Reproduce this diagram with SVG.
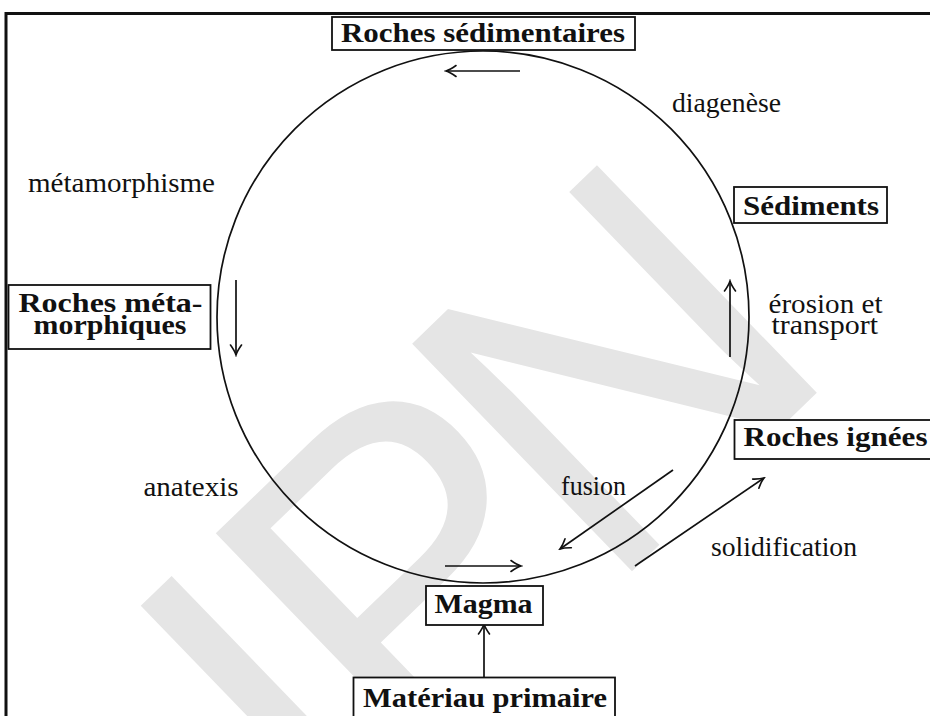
<svg xmlns="http://www.w3.org/2000/svg" width="930" height="716" viewBox="0 0 930 716">
<defs>
<style>
.box{fill:#fff;stroke:#111;stroke-width:1.8}
.bt{font-family:"Liberation Serif","DejaVu Serif",serif;font-weight:bold;font-size:27px;fill:#111}
.lt{font-family:"Liberation Serif","DejaVu Serif",serif;font-size:27px;fill:#111}
.ln{fill:none;stroke:#111;stroke-width:1.7}
.wm{font-family:"Liberation Sans",Arial,sans-serif;font-size:460px;fill:#e5e5e5}
</style>
<marker id="ah" markerUnits="userSpaceOnUse" viewBox="-12 -7 14 14" refX="0" refY="0" markerWidth="14" markerHeight="14" orient="auto">
<path d="M-10,-5.5 Q-4,-1.2 0,0 Q-4,1.2 -10,5.5" fill="none" stroke="#111" stroke-width="1.6" stroke-linecap="round"/>
</marker>
</defs>
<rect width="930" height="716" fill="#fff"/>
<g id="watermark" transform="rotate(-44)">
<text class="wm" x="-362" y="850">I</text>
<text class="wm" x="-253" y="850">P</text>
<text class="wm" x="20" y="850">N</text>
</g>
<path d="M6,716 V13.5 H930" stroke="#111" stroke-width="3" fill="none"/>
<circle id="cycle" cx="483" cy="317" r="266" class="ln"/>
<g id="connectors" class="ln">
<path d="M520,71 H446" marker-end="url(#ah)"/>
<path d="M236,280 V355" marker-end="url(#ah)"/>
<path d="M730,357 V281" marker-end="url(#ah)"/>
<path d="M673,470 L560,549" marker-end="url(#ah)"/>
<path d="M635,566 L764,478" marker-end="url(#ah)"/>
<path d="M445,566 H521" marker-end="url(#ah)"/>
<path d="M484,677 V624" marker-end="url(#ah)"/>
</g>
<g id="roches-sedimentaires"><rect class="box" x="332" y="17" width="303" height="33"/><text class="bt" x="341" y="42" textLength="284" lengthAdjust="spacingAndGlyphs">Roches sédimentaires</text></g>
<g id="sediments"><rect class="box" x="734" y="187" width="153" height="36"/><text class="bt" x="743" y="214.5" textLength="136" lengthAdjust="spacingAndGlyphs">Sédiments</text></g>
<g id="roches-metamorphiques"><rect class="box" x="8.5" y="285" width="202" height="64"/><text class="bt" x="18.5" y="312" textLength="184" lengthAdjust="spacingAndGlyphs">Roches méta-</text><text class="bt" x="33.5" y="333.5" textLength="153" lengthAdjust="spacingAndGlyphs">morphiques</text></g>
<g id="roches-ignees"><rect class="box" x="734.5" y="420" width="210" height="39"/><text class="bt" x="743.5" y="446" textLength="184" lengthAdjust="spacingAndGlyphs">Roches ignées</text></g>
<g id="magma"><rect class="box" x="426" y="586" width="117" height="39"/><text class="bt" x="434.5" y="613" textLength="98" lengthAdjust="spacingAndGlyphs">Magma</text></g>
<g id="materiau-primaire"><rect class="box" x="353.5" y="677.5" width="261.5" height="39.5"/><text class="bt" x="363" y="707" textLength="244" lengthAdjust="spacingAndGlyphs">Matériau primaire</text></g>
<g id="labels">
<text class="lt" x="28" y="192" textLength="187" lengthAdjust="spacingAndGlyphs">métamorphisme</text>
<text class="lt" x="672" y="112" textLength="109" lengthAdjust="spacingAndGlyphs">diagenèse</text>
<text class="lt" x="768.5" y="312.5" textLength="114" lengthAdjust="spacingAndGlyphs">érosion et</text>
<text class="lt" x="771.5" y="334" textLength="106.5" lengthAdjust="spacingAndGlyphs">transport</text>
<text class="lt" x="143.5" y="496" textLength="95" lengthAdjust="spacingAndGlyphs">anatexis</text>
<text class="lt" x="561" y="494.5" textLength="65" lengthAdjust="spacingAndGlyphs">fusion</text>
<text class="lt" x="711" y="556" textLength="146" lengthAdjust="spacingAndGlyphs">solidification</text>
</g>
</svg>
